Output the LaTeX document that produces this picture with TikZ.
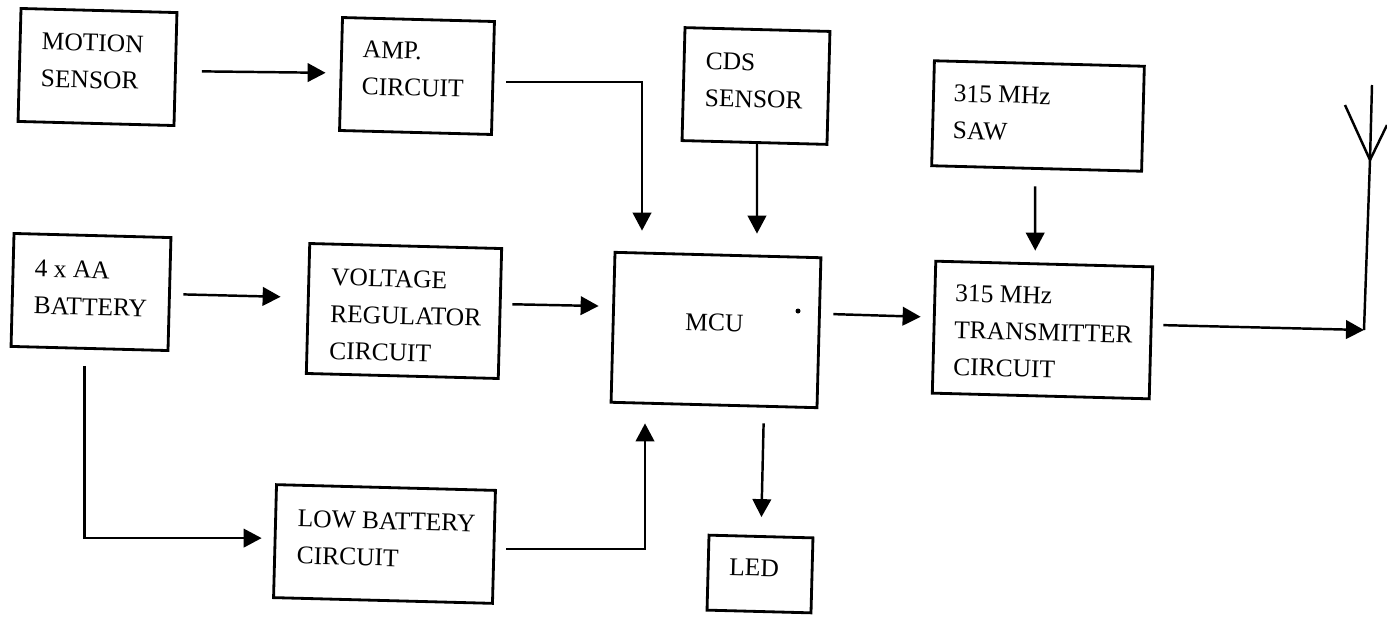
\documentclass[tikz,border=0pt]{standalone}
\usepackage{fontspec}
\setmainfont{Liberation Serif}
\usetikzlibrary{arrows.meta}

\tikzset{
	blockFrame/.style={draw, line width=1.6pt, rotate=-1.5, inner sep=0pt},
	blockText/.style={anchor=west, align=left, rotate=-1.5, inner sep=0pt,
		font=\fontsize{14.5}{21}\selectfont},
	flowArrow/.style={line width=1.4pt, -{Triangle[length=.36cm,width=.37cm]}},
	plainWire/.style={line width=1.4pt}
}

\begin{document}
\begin{tikzpicture}[x=0.02cm, y=-0.02cm]

		% Define the macro.
		% 1st argument: Name of the block.
		% 2nd and 3rd argument: Center of the frame.
		% 4th and 5th argument: Width and height of the frame.
		% 6th and 7th argument: Left edge and middle of the text.
		% 8th argument: Text of the block.
		\newcommand{\blockBox}[8]{
			\node[blockFrame, minimum width=#4*0.02cm, minimum height=#5*0.02cm] (#1) at (#2,#3) {};
			\node[blockText] (#1Text) at (#6,#7) {#8};
		}

		\useasboundingbox (0,0) rectangle (1387,616);

		% TOP ROW
		\blockBox{motion}{97.5}{67}{156}{113}{41}{60}{MOTION\\SENSOR}
		\blockBox{amp}{417}{76}{152}{113}{362}{68}{AMP.\\CIRCUIT}
		\blockBox{cds}{756}{86}{145}{113}{705}{79.5}{CDS\\SENSOR}
		\blockBox{saw}{1038}{116}{210}{105}{953}{112}{315 MHz\\SAW}

		% MIDDLE ROW
		\blockBox{battery}{91}{292}{157}{113}{34}{287}{4 x AA\\BATTERY}
		\blockBox{regulator}{404}{311}{192}{130}{330}{314}{VOLTAGE\\REGULATOR\\CIRCUIT}
		\blockBox{mcu}{716}{330}{206}{150}{685}{322}{MCU}
		\blockBox{transmitter}{1042.5}{330}{217}{132}{954}{330}{315 MHz\\TRANSMITTER\\CIRCUIT}

		% BOTTOM ROW
		\blockBox{lowbat}{384.5}{544}{219}{113}{297}{537}{LOW BATTERY\\CIRCUIT}
		\blockBox{led}{760}{574}{104}{75}{729}{567}{LED}

		% Speck inside the MCU block.
		\fill (798,311) circle (2.5);

		% CONNECTORS
		\draw[flowArrow, shorten <=.5cm, shorten >=.28cm] ([yshift=-.04cm]motion.east) -- ([yshift=.02cm]amp.west);
		\draw[flowArrow, shorten <=.24cm, shorten >=.46cm] ([yshift=-.08cm]amp.east) -| ([xshift=-1.52cm]mcu.north);
		\draw[flowArrow, shorten >=.4cm] ([xshift=.05cm]cds.south) -- ([xshift=.78cm]mcu.north);
		\draw[flowArrow, shorten <=.33cm, shorten >=.24cm] ([xshift=-.03cm]saw.south) -- ([xshift=-.18cm]transmitter.north);
		\draw[flowArrow, shorten <=.25cm, shorten >=.52cm] (battery.east) -- ([yshift=.22cm]regulator.west);
		\draw[flowArrow, shorten <=.22cm, shorten >=.26cm] ([yshift=.19cm]regulator.east) -- ([yshift=.42cm]mcu.west);
		\draw[flowArrow, shorten <=.26cm, shorten >=.24cm] ([yshift=.38cm]mcu.east) -- ([yshift=.2cm]transmitter.west);
		\draw[flowArrow, shorten <=.32cm, shorten >=.24cm] ([xshift=-.1cm]battery.south) |- ([yshift=.06cm]lowbat.west);
		\draw[flowArrow, shorten <=.22cm, shorten >=.34cm] ([yshift=-.04cm]lowbat.east) -| ([xshift=-1.38cm]mcu.south);
		\draw[flowArrow, shorten <=.34cm, shorten >=.36cm] ([xshift=1cm]mcu.south) -- (led.north);

		% ANTENNA
		\coordinate (antennaTop) at (1372,85);
		\coordinate (antennaApex) at (1370,160);
		\coordinate (antennaFoot) at (1364,330);
		\coordinate (antennaLeft) at (1345,105);
		\coordinate (antennaRight) at (1387,125);
		\draw[flowArrow, shorten <=.22cm] ([yshift=.16cm]transmitter.east) -- (antennaFoot);
		\draw[plainWire] (antennaTop) -- (antennaApex) -- (antennaFoot);
		\draw[plainWire] (antennaLeft) -- (antennaApex) -- (antennaRight);

	\end{tikzpicture}
\end{document}
